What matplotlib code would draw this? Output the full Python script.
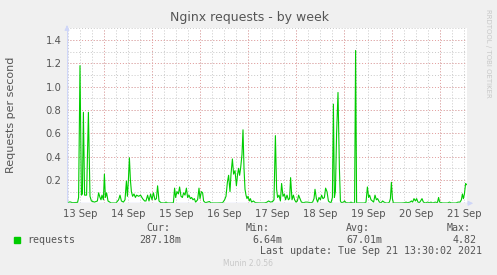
import matplotlib
matplotlib.use("Agg")
import matplotlib.pyplot as plt
import numpy as np

# hours since Sep 13 05:30 (graph start), end = Sep 21 13:30
hours = [
    0, 1.5, 2.8, 5.3, 5.8, 6.5, 7.2, 7.7, 8.2, 8.8, 9.8, 10.7, 11.5, 12.2, 13.7, 15.2,
    15.8, 16.5, 17.0, 17.5, 18.2, 18.7, 19.2, 19.8, 20.5, 22, 24.5, 25.8, 26.5, 27.2,
    28.2, 29, 29.7, 30.2, 30.7, 31.2, 31.7, 32.2, 32.8, 33.5, 34.2, 34.8, 35.8, 36.8,
    37.8, 38.8, 39.5, 40.3, 41, 41.8, 42.5, 43.2, 44, 44.7, 45.3, 46, 47, 48.7, 49.5,
    50.3, 52, 53.2, 53.8, 54.3, 55, 55.7, 56.3, 57, 57.7, 58.3, 59, 59.7, 60.3, 61,
    61.7, 62.3, 63, 63.7, 64.3, 65.3, 66, 66.5, 67.2, 67.8, 68.3, 69.2, 70.3, 71.2, 72,
    75.3, 77.8, 78.8, 79.5, 80.2, 80.8, 81.5, 82, 82.7, 83.3, 84, 84.7, 85.3, 85.8,
    86.3, 86.8, 87.5, 88, 88.5, 89, 89.5, 90, 90.5, 91.2, 91.7, 92.3, 93.2, 94.2, 96.2,
    98.7, 99.8, 100.8, 101.8, 102.8, 103.5, 104.2, 104.8, 105.3, 106, 106.7, 107.3,
    108, 108.7, 109.3, 110, 110.7, 111.3, 111.8, 112.5, 113.2, 113.8, 114.5, 115.2,
    115.8, 116.5, 117.2, 118.2, 119.2, 120.2, 122, 122.8, 123.5, 124, 124.7, 125.3,
    126, 126.7, 127.3, 128, 128.7, 129.3, 130, 130.7, 131.3, 132, 132.7, 133.2, 133.7,
    134.2, 134.8, 135.5, 136.2, 136.7, 137.2, 138.2, 138.8, 139.5, 141.2, 142, 142.8,
    143.8, 144.3, 144.8, 146.2, 148.7, 149.5, 150.2, 150.8, 151.3, 152, 152.7, 153.3,
    154, 154.7, 155.3, 156.2, 157, 157.8, 158.5, 159.5, 160.5, 161.2, 161.7, 162.2,
    162.7, 163.2, 165.3, 167.5, 168.7, 169.5, 170.3, 171.5, 172.2, 172.8, 173.5, 174.2,
    174.8, 175.5, 176.2, 176.8, 177.5, 178.2, 179.2, 180.3, 181.2, 182, 182.8, 184.2,
    185.2, 185.8, 186.3, 187.8, 190.3, 191.2, 192.2, 194.5, 195.5, 196.5, 197.2, 197.7,
    198.2, 198.7, 199.3, 199.8,
]
rps = [
    0.005, 0.012, 0.005, 0.008, 0.05, 1.18, 0.07, 0.08, 0.78, 0.07, 0.07, 0.78, 0.06, 0.02, 0.01, 0.02,
    0.09, 0.05, 0.03, 0.07, 0.03, 0.25, 0.05, 0.09, 0.02, 0.003, 0.003, 0.03, 0.07, 0.02,
    0.01, 0.03, 0.19, 0.06, 0.2, 0.39, 0.2, 0.1, 0.06, 0.08, 0.05, 0.07, 0.06, 0.07,
    0.04, 0.02, 0.02, 0.07, 0.02, 0.08, 0.03, 0.09, 0.03, 0.04, 0.15, 0.02, 0.005, 0.003, 0.01,
    0.003, 0.003, 0.005, 0.13, 0.05, 0.1, 0.08, 0.14, 0.06, 0.05, 0.09, 0.07, 0.13, 0.05, 0.07,
    0.04, 0.05, 0.03, 0.04, 0.01, 0.03, 0.13, 0.04, 0.1, 0.09, 0.02, 0.005, 0.01, 0.015, 0.003,
    0.003, 0.005, 0.03, 0.06, 0.18, 0.24, 0.1, 0.25, 0.38, 0.25, 0.28, 0.15, 0.25, 0.3,
    0.24, 0.3, 0.42, 0.63, 0.3, 0.12, 0.07, 0.04, 0.06, 0.02, 0.04, 0.01, 0.02, 0.005, 0.003,
    0.003, 0.008, 0.02, 0.01, 0.015, 0.03, 0.58, 0.12, 0.05, 0.07, 0.02, 0.17,
    0.06, 0.08, 0.03, 0.07, 0.03, 0.04, 0.22, 0.03, 0.07, 0.03, 0.01, 0.02,
    0.07, 0.04, 0.01, 0.005, 0.01, 0.01, 0.005, 0.01, 0.04, 0.12, 0.04, 0.01,
    0.05, 0.03, 0.07, 0.04, 0.05, 0.13, 0.1, 0.02, 0.01, 0.005, 0.05, 0.85, 0.05,
    0.1, 0.6, 0.95, 0.3, 0.02, 0.005, 0.01, 0.02, 0.005, 0.003, 0.01, 0.003,
    0.003, 1.31, 0.003, 0.003, 0.003, 0.01, 0.14, 0.05, 0.07, 0.03, 0.02, 0.01,
    0.07, 0.03, 0.04, 0.01, 0.003, 0.02, 0.01, 0.003, 0.003, 0.01, 0.04, 0.18,
    0.04, 0.003, 0.003, 0.003, 0.005, 0.01, 0.005, 0.01, 0.02, 0.01, 0.04, 0.02,
    0.04, 0.01, 0.005, 0.02, 0.04, 0.01, 0.003, 0.01, 0.005, 0.01, 0.003, 0.01,
    0.005, 0.05, 0.01, 0.003, 0.003, 0.01, 0.003, 0.003, 0.01, 0.01, 0.03, 0.08,
    0.04, 0.08, 0.17, 0.16,
]
day_labels = ["13 Sep", "14 Sep", "15 Sep", "16 Sep", "17 Sep",
              "18 Sep", "19 Sep", "20 Sep", "21 Sep"]
yticks = [0.2, 0.4, 0.6, 0.8, 1.0, 1.2, 1.4]
legend_cols = [("Cur:", "287.18m"), ("Min:", "6.64m"), ("Avg:", "67.01m"), ("Max:", "4.82")]

W, H = 497, 275
BACK = "#F0F0F0"
FONT = "#555555"
AXIS = "#CFD6F8"
GREEN = "#00CC00"

fig = plt.figure(figsize=(W / 100, H / 100), dpi=100, facecolor=BACK)
ax = fig.add_axes([67 / W, 1 - 203.3 / H, 400 / W, 175 / H])
ax.set_facecolor("white")
ax.set_xlim(0, 200)
ax.set_ylim(0, 1.5)
for s in ax.spines.values():
    s.set_visible(False)

# grid: minor every 6h / 0.1, major at midnight / 0.2
for t in np.arange(0.5, 200, 6):
    ax.axvline(t, color="#C8C8C8", lw=0.7, ls=(0, (1, 2)), zorder=1)
for t in np.arange(18.5, 200, 24):
    ax.axvline(t, color="#E8A0A0", lw=0.7, ls=(0, (1, 2)), zorder=1)
for y in np.arange(0.1, 1.51, 0.1):
    ax.axhline(y, color="#C8C8C8", lw=0.7, ls=(0, (1, 2)), zorder=1)
for y in np.arange(0.2, 1.41, 0.2):
    ax.axhline(y, color="#E8A0A0", lw=0.7, ls=(0, (1, 2)), zorder=1)

ax.plot(hours, rps, color=GREEN, lw=0.8, zorder=3)

# axes with arrows
ax.axhline(0, color=AXIS, lw=1, zorder=4)
ax.axvline(0, color=AXIS, lw=1, zorder=4)
ax.annotate("", xy=(0, 1.55), xytext=(0, 1.49), xycoords="data",
            arrowprops=dict(arrowstyle="-|>", color=AXIS, lw=0.8, mutation_scale=7),
            annotation_clip=False)
ax.annotate("", xy=(204.5, 0), xytext=(199, 0), xycoords="data",
            arrowprops=dict(arrowstyle="-|>", color=AXIS, lw=0.8, mutation_scale=7),
            annotation_clip=False)

ax.set_xticks([6.5 + 24 * i for i in range(len(day_labels))])
ax.set_xticklabels(day_labels)
ax.set_yticks(yticks)
ax.set_yticklabels([f"{v:.1f}" for v in yticks])
ax.tick_params(length=0, labelsize=7.2, colors=FONT, pad=4)

fig.text(11 / W, 1 - 115 / H, "Requests per second", rotation=90, ha="center",
         va="center", fontsize=8, color=FONT)
fig.text(250 / W, 1 - 18 / H, "Nginx requests - by week", ha="center", va="center",
         fontsize=9, color=FONT)
fig.text(488 / W, 1 - 53 / H, "RRDTOOL / TOBI OETIKER", rotation=270, ha="center",
         va="center", fontsize=5, color="#C8C8C8")

# legend block
mono = dict(family="DejaVu Sans Mono", fontsize=7.2, color=FONT, va="center")
fig.patches.append(plt.Rectangle((14 / W, 1 - 243 / H), 6 / W, 6 / H,
                                 transform=fig.transFigure, color=GREEN))
fig.text(27 / W, 1 - 240 / H, "requests", ha="left", **mono)
lab_x = [146, 246, 346, 447]
val_r = [181, 282, 382, 477]
for (lab, val), lx, vx in zip(legend_cols, lab_x, val_r):
    fig.text(lx / W, 1 - 228 / H, lab, ha="left", **mono)
    fig.text(vx / W, 1 - 240 / H, val, ha="right", **mono)
fig.text(482 / W, 1 - 251 / H, "Last update: Tue Sep 21 13:30:02 2021", ha="right", **mono)
fig.text(248 / W, 1 - 264 / H, "Munin 2.0.56", ha="center", va="center",
         fontsize=5.5, color="#C8C8C8")

fig.savefig("out.png", dpi=100, facecolor=BACK)
